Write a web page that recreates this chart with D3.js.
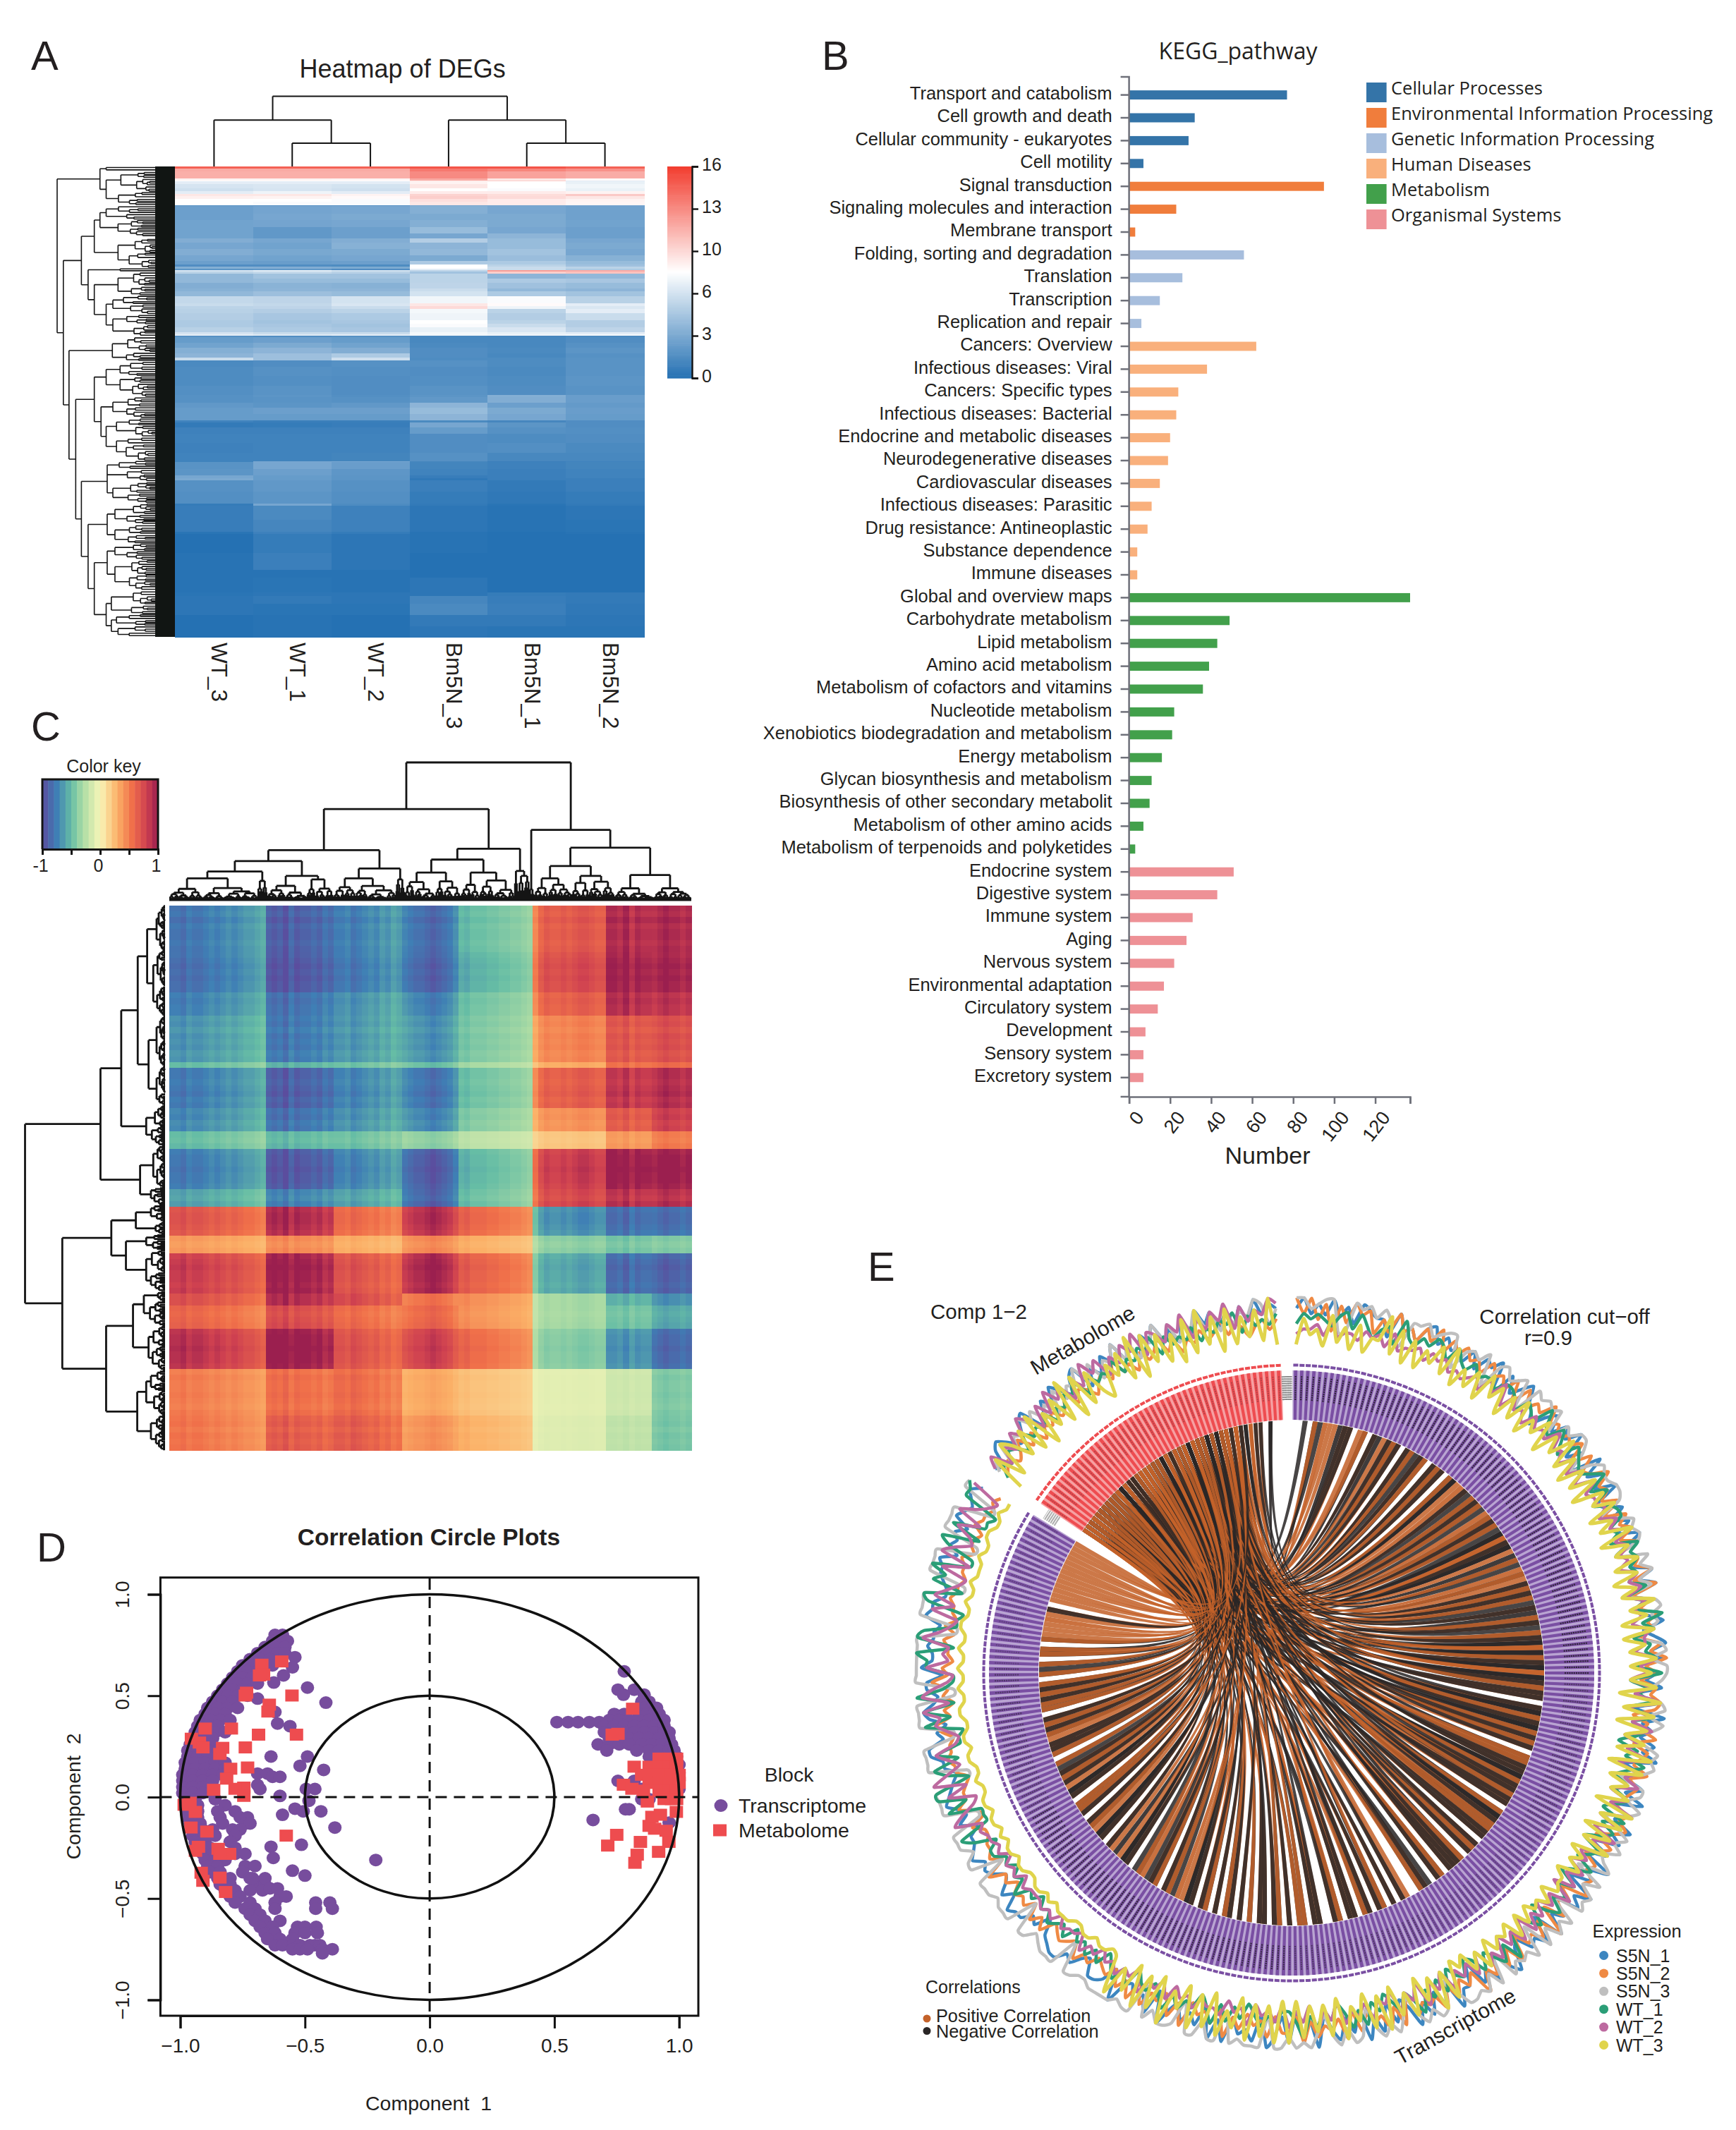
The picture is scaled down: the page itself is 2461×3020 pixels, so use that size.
<!DOCTYPE html>
<html><head><meta charset="utf-8">
<script src="https://cdn.jsdelivr.net/npm/d3@7"></script>
<style>html,body{margin:0;padding:0;background:#fff}svg{display:block}text{font-family:"Liberation Sans",Arial,sans-serif;fill:#231f20}</style>
</head><body><svg id="c" width="2461" height="3020" viewBox="0 0 2461 3020"></svg>
<script>
/* ---------- Panel A ---------- */
const heatColumns=["WT_3","WT_1","WT_2","Bm5N_3","Bm5N_1","Bm5N_2"];
const heatRows=[[4,14.5,14.5,14.5,15,15,14.5],[6,11.5,11.5,11.5,13.5,13,12.5],[16,11.3,11.3,11.3,12.8,11.8,11.4],[4,8.5,8.5,8.4,11.5,9,8.2],[2,8,8,8,9,10,7],[6,7,7,7,8.5,8,7.2],[8,6.5,6.6,6.4,9,8,7.5],[6,6.2,6.5,6.2,8,7.8,7.2],[6,7,7.4,7,8.8,8.8,8.5],[4,9,9,8.5,9.8,9.4,10.2],[6,8.6,8.5,8.2,10,9.5,9],[6,8,8,7.8,9.3,8.8,8.5],[8,8,7.8,7.8,9,8.8,8.4],[2,2,2,2,3,3,3],[16,2.6,2.9,3,3.5,3,2.7],[14,2.6,3,3.2,3.2,3.2,2.7],[14,2.8,2.9,3,3.5,3.2,2.8],[14,2.8,2.2,2.6,4.2,3,2.6],[10,2.8,2.2,2.6,3,3.8,2.6],[10,3.4,3,3.4,5.2,4.2,3],[12,3,2.8,3.6,3.8,4.2,3.2],[14,3.4,3.1,3.2,4,4.6,3],[12,3,2.8,3,3.2,4.3,3.6],[8,2.6,2.5,2.6,5,5,4.2],[4,1.6,1.6,1.5,8,5.5,4.5],[4,3.5,3.4,3.2,8,6,5.5],[4,2,2.2,1.6,7,6,5],[3,6.5,7,6.4,5.6,12,11.5],[4,5.5,5.8,5.4,4.6,10,10.5],[10,4,4.6,4.6,5.5,3.8,4],[10,4,4.2,4.2,5.5,5,4.8],[12,3.4,3.7,3.6,5.6,4.5,4.2],[6,3.6,3.8,3.8,6,4,3.8],[10,4,4.4,4.2,6.4,5,4.6],[14,5.8,5.6,6.4,7.5,7.8,5.4],[6,6,5.8,6.6,9,8.2,7],[6,5.5,5.6,6,9.5,7.4,6.6],[10,5.4,5.2,5.5,7.6,5.5,7],[14,5.2,4.8,5,7.4,5.2,6],[8,5,4.6,4.8,8,5.5,5.2],[8,5,4.8,4.6,7.8,6,5.2],[10,5.4,5,4.8,7.2,6.6,5.6],[4,6.5,6,6,7.6,7.2,7],[4,7,6.8,7,7.5,7.4,7.6],[3,1.8,1.6,1.8,1.3,1.2,1.4],[12,2.4,2.6,2.4,1.3,1.3,1.6],[10,2.8,3.2,2.8,1.4,1.3,1.8],[12,3.5,3.8,3.4,1.6,1.4,2],[8,3.8,4.4,5,1.6,1.3,1.8],[6,6,4.4,6.2,1.5,1.5,1.9],[14,1.4,1.6,1.8,1.8,1.5,1.9],[20,1.5,1.8,1.7,1.6,1.4,1.9],[20,1.5,1.7,1.6,1.7,1.5,2],[20,1.7,1.9,1.6,1.9,1.6,1.9],[4,1.8,2,1.7,2,3.5,2.5],[12,1.8,1.9,1.8,2.2,3.4,2.5],[10,2.2,2,2.2,3.8,2.6,2.3],[14,2.4,2.6,2.6,4.2,3.2,2.5],[14,2.4,2.4,2.4,3.8,3,2.4],[4,1,.8,.8,1.4,1.2,1.6],[10,.5,.6,.7,3,2,1.6],[14,.9,.9,.9,2.4,1.8,1.7],[20,1,1,1,1.6,1.5,1.6],[20,.9,1,1,1.6,1.7,1.4],[18,1,1,1.1,1.8,1.3,1.3],[2,1,3,3,1.2,.8,1],[14,1.9,3,2.5,1.1,.9,1.1],[14,2,2.6,2.1,1,.8,1],[6,3,2.4,2,.7,.8,1],[4,3.2,2.4,2,.4,.8,.8],[24,1.8,2.2,1.8,.8,.5,.8],[26,1.7,2,1.7,.6,.4,.6],[4,.6,3,1.5,.5,.2,.5],[30,.7,1.4,.9,.3,.1,.3],[26,.7,1.2,.9,.3,.1,.2],[4,.2,.9,.6,.1,0,.1],[40,0,.6,.3,.1,0,0],[36,.1,.8,.3,0,0,0],[16,.1,.1,.1,0,0,0],[32,.1,.2,.1,.3,0,0],[8,.2,.3,.3,.3,.6,.5],[16,.3,.5,.3,1.2,.7,.5],[24,.3,.2,.2,1.4,.8,.4],[24,0,.1,0,.5,.5,.3],[22,0,.1,0,.3,.2,.2]];
const heatTicks=[0,3.2,6.4,9.6,12.8,16];
const heatColTree=[204,[254,[352,0,1],[303,[352,1,2],[352,2,3]]],[254,[352,3,4],[303,[352,4,5],[352,5,6]]]];
const heatRowTree=[110,[193,[205,352,362],[205,362,435]],[122,[157,[182,[193,[205,435,465],[228,465,500]],[228,505,567]],[170,[232,567,575],[182,[228,575,625],[205,[218,625,665],[218,665,712]]]]],[133,[217,712,765],[146,[182,[205,[232,765,795],[232,795,840]],[195,[218,840,885],[205,[225,885,925],[225,925,975]]]],[157,[207,[207,975,1020],[218,1020,1065]],[170,[207,[222,1065,1110],[222,1110,1150]],[182,[207,[222,1150,1185],[222,1185,1250]],[205,[215,1250,1300],[215,[225,1300,1325],[228,1325,1348]]]]]]]]]];
/* ---------- Panel B ---------- */
const keggGroups=["Cellular Processes","Environmental Information Processing","Genetic Information Processing","Human Diseases","Metabolism","Organismal Systems"];
const keggColors=["#3474a8","#f07d3c","#a7bedd","#f9b07c","#42a04b","#ee9196"];
const keggNames=["Transport and catabolism","Cell growth and death","Cellular community - eukaryotes","Cell motility","Signal transduction","Signaling molecules and interaction","Membrane transport","Folding, sorting and degradation","Translation","Transcription","Replication and repair","Cancers: Overview","Infectious diseases: Viral","Cancers: Specific types","Infectious diseases: Bacterial","Endocrine and metabolic diseases","Neurodegenerative diseases","Cardiovascular diseases","Infectious diseases: Parasitic","Drug resistance: Antineoplastic","Substance dependence","Immune diseases","Global and overview maps","Carbohydrate metabolism","Lipid metabolism","Amino acid metabolism","Metabolism of cofactors and vitamins","Nucleotide metabolism","Xenobiotics biodegradation and metabolism","Energy metabolism","Glycan biosynthesis and metabolism","Biosynthesis of other secondary metabolit","Metabolism of other amino acids","Metabolism of terpenoids and polyketides","Endocrine system","Digestive system","Immune system","Aging","Nervous system","Environmental adaptation","Circulatory system","Development","Sensory system","Excretory system"];
const keggValues=[77,32,29,7,95,23,3,56,26,15,6,62,38,24,23,20,19,15,11,9,4,4,137,49,43,39,36,22,21,16,11,10,7,3,51,43,31,28,22,17,14,8,7,7];
const keggGroupOf=[0,0,0,0,1,1,1,2,2,2,2,3,3,3,3,3,3,3,3,3,3,3,4,4,4,4,4,4,4,4,4,4,4,4,5,5,5,5,5,5,5,5,5,5];
const keggTicks=[0,20,40,60,80,100,120,137];
/* ---------- Panel C ---------- */
const corrColSizes=[17,12,12,10,13,13,8,7];
const corrRowSizes=[8,7,4,8,1,7,4,3,7,3,5,3,7,2,4,7,8,6];
const corrBlocks=[[-.7,-.82,-.7,-.75,-.47,.62,.82,.86],[-.72,-.85,-.72,-.78,-.52,.68,.86,.88],[-.67,-.75,-.64,-.68,-.45,.6,.82,.82],[-.6,-.72,-.62,-.62,-.42,.45,.62,.68],[-.45,-.5,-.45,-.45,-.3,.3,.5,.55],[-.68,-.82,-.68,-.72,-.45,.6,.76,.84],[-.64,-.75,-.64,-.66,-.4,.4,.6,.76],[-.45,-.48,-.45,-.35,-.22,.2,.35,.48],[-.68,-.85,-.68,-.82,-.5,.76,.9,.92],[-.55,-.68,-.58,-.8,-.47,.72,.8,.84],[.62,.85,.55,.82,.58,-.65,-.75,-.78],[.35,.42,.3,.42,.3,-.38,-.42,-.4],[.72,.9,.65,.85,.6,-.55,-.75,-.82],[.65,.85,.72,.5,.42,-.3,-.5,-.65],[.55,.68,.55,.55,.4,-.3,-.42,-.55],[.78,.93,.65,.72,.55,-.38,-.6,-.78],[.45,.52,.55,.3,.22,-.08,-.15,-.4],[.48,.6,.62,.38,.28,-.1,-.2,-.42]];
const corrKeyDomain=[-1,-.75,-.5,-.3,0,.3,.55,.8,1];
const corrKeyColors=["#5b4d9e","#3f7fb5","#66bda5","#abdba4","#f8f6b8","#fbb067","#f0704a","#cf4150","#9b1f4f"];
const corrColShade="77867765654543321"+"676857665645"+"665765453423"+"4566787653"+"6755544332210"+"0465565677655"+"77685766"+"5676656";
const corrRowShade="65756656"+"5676766"+"5655"+"56465645"+"5"+"6656756"+"5645"+"546"+"5667665"+"546"+"56654"+"535"+"5676656"+"55"+"5456"+"5667665"+"46556546"+"564656";
const corrTopTree=[116,[210,[293,[315,[336,[350,358,545],[355,545,565]],[345,[365,565,650],[352,650,705]]],[330,[350,705,838],[352,838,856]]],[290,[312,[338,856,975],[338,975,1090]],[335,[360,1088,1096],[345,1096,1120]]]],[252,[372,1120,1130],[288,[325,[350,1130,1210],[345,1210,1300]],[343,[370,1300,1385],[370,1385,1463]]]]];
const corrLeftTree=[53,[213,[257,[292,[312,[332,405,495],[325,495,628]],[315,[332,628,730],[332,730,810]]],[310,810,890]],[297,[325,890,975],[320,975,1010]]],[132,[236,[288,[320,1010,1045],[330,1045,1070]],[267,[310,1070,1100],[310,1100,1185]]],[225,[282,[305,[335,1185,1205],[318,1205,1255]],[315,1255,1345]],[291,[310,1345,1435],[320,1435,1506]]]]];
const treeSplits=[.45,.6,.35,.52,.68,.4,.55,.3,.62,.48,.38,.58];
const treeSteps=[.42,.3,.5,.36,.25,.46,.33];
/* ---------- Panel D ---------- */
const transcriptRows=[[.80,-.59,-.62],[.77,-.63,-.60,-.57],[.74,-.66,-.62,-.58],[.71,-.69,-.65,-.61,-.58],[.68,-.72,-.68,-.64],[.65,-.75,-.71,-.67,-.63],[.62,-.77,-.73,-.69],[.59,-.79,-.75,-.71],[.56,-.81,-.77,-.73,-.69],[.53,-.83,-.79,-.75],[.50,-.85,-.81,-.77,-.73],[.47,-.87,-.83,-.79],[.44,-.89,-.85,-.81,-.77],[.41,-.90,-.86,-.82],[.38,-.92,-.88,-.84,-.80],[.35,-.93,-.89,-.85],[.32,-.94,-.9,-.86,-.82],[.29,-.95,-.91,-.87],[.26,-.96,-.92,-.88],[.23,-.97,-.93,-.89,-.85],[.20,-.97,-.93,-.89,-.85],[.17,-.98,-.94,-.9,-.86,-.82],[.14,-.98,-.94,-.9,-.86,-.82],[.11,-.99,-.95,-.91,-.87,-.83],[.08,-.99,-.95,-.91,-.87],[.05,-.99,-.95,-.91,-.87],[.02,-.99,-.95,-.91,-.87],[-.01,-.98,-.94,-.86],[-.04,-.97,-.93,-.82],[-.07,-.97,-.93,-.85,-.78],[-.1,-.97,-.93,-.84,-.76,-.73],[-.13,-.96,-.92,-.83,-.74,-.72],[-.16,-.95,-.91,-.87,-.79,-.76],[-.19,-.95,-.9,-.86,-.78],[-.22,-.94,-.9,-.8],[-.25,-.92,-.88,-.78],[-.28,-.91,-.87,-.78,-.74],[-.31,-.9,-.86,-.82],[-.34,-.89,-.85,-.74,-.7],[-.37,-.88,-.84,-.75],[-.40,-.85,-.8,-.72],[-.43,-.84,-.8,-.7,-.66],[-.46,-.82,-.78,-.72,-.67],[-.49,-.8,-.76,-.6,-.575],[-.52,-.78,-.72,-.62,-.457,-.4],[-.55,-.74,-.7,-.62,-.457,-.39],[-.58,-.72,-.68],[-.61,-.7,-.66,-.6],[-.64,-.68,-.63,-.53,-.5,-.455],[-.67,-.66,-.62,-.54,-.5,-.45],[-.7,-.65,-.6,-.55],[-.73,-.62,-.59,-.55,-.52,-.48,-.46,-.44],[-.75,-.55,-.52,-.49,-.43,-.39],[-.77,-.43],
[.69,-.54],[.64,-.55],[.6,-.586],[.565,-.625],[.54,-.49],[.466,-.416],[.486,-.69],[.42,-.62],[.363,-.61],[.35,-.56],[.2,-.636,-.49],[.154,-.52],[.134,-.425],[.116,-.69,-.65],[.1,-.63,-.6],[.06,-.69],[.04,-.68,-.495,-.46],[.006,-.6],[-.018,-.484],[-.057,-.54],[-.07,-.507,-.436],[-.087,-.59],[-.15,-.38],[-.245,-.636],[-.235,-.514],[-.3,-.627],[-.363,-.55],[-.387,-.5],[-.31,-.216],[-.4,-.71,-.66],[-.45,-.64,-.61],
[.62,.78],[.53,.755,.82],[.505,.777,.86],[.47,.85,.88],[.44,.86,.89,.91],[.41,.74,.78,.84,.87,.9,.92],[.38,.72,.76,.8,.84,.88,.92,.94],[.37,.51,.555,.595,.64,.68],[.35,.7,.74,.78,.82,.86,.9,.94],[.32,.7,.74,.78,.82,.86,.9,.94,.96],[.29,.72,.76,.8,.84,.88,.92,.96],[.26,.675,.72,.76,.8,.85,.89,.93,.97],[.23,.71,.83,.88,.92,.96,.98],[.2,.88,.92,.96,.99],[.16,.9,.94,.98,1.0],[.12,.92,.96,1.0],[.08,.755,.82,.9,.97,1.0],[.04,.85,.98,1.0],[-.01,.85,.88],[-.06,.785,.8],[-.113,.655],[-.126,.96]];
const metaboliteRows=[[.669,-.593],[.653,-.673],[.604,-.666],[.6,-.682],[.515,-.734],[.501,-.552,-.739],[.456,-.643],[.422,-.648],[.338,-.9,-.795],[.308,-.534,-.686],[.288,-.955],[.269,-.923],[.245,-.909,-.739],[.243,-.83],[.213,-.841],[.146,-.73],[.14,-.798],[.091,-.814],[.047,-.745],[.041,-.78],[.036,-.866],[.006,-.745],[-.028,-.961],[-.038,-.984],[-.073,-.939],[-.15,-.957],[-.17,-.893],[-.19,-.575],[-.245,-.927],[-.255,-.848],[-.265,-.939],[-.28,-.802,-.841],[-.373,-.916],[-.397,-.841],[-.413,-.909],[-.468,-.818],
[.436,.814],[.312,.755],[.308,.732],[.19,.92,.96,.99],[.15,.82,.88,.92,.96,.99],[.11,.85,.89,.93,.97,1.0],[.07,.88,.92,.96,1.0],[.061,.777],[.041,.811],[.032,.857],[.03,.92,.96,.99],[-.01,.94,.97,.99],[-.022,.873],[-.073,.989],[-.087,.925],[-.097,.891],[-.142,.88],[-.156,.902],[-.166,.948],[-.186,.75],[-.221,.845,.959],[-.239,.714],[-.27,.918],[-.284,.832],[-.324,.823]];
const circleTicks=[-1,-.5,0,.5,1];
/* ---------- Panel E ---------- */
const expressionNames=["S5N_1","S5N_2","S5N_3","WT_1","WT_2","WT_3"];
const expressionColors=["#3d86c0","#ef8a44","#bfbfbf","#2b9e77","#bd6aa0","#e0d44c"];
const transcriptBars=d3.range(260), metaboliteBars=d3.range(47);
const S5N_1_T="79686968598774967589686758"+"58793857965368586947395859"+"45858596375969474695796837"+"58383957586937485947596837"+"39573968375938674597385726"+"69374859537385937486394728"+"37938674959375746938574593"+"67745768876365778575467687"+"66475687654668856478657748"+"66766587755677857675876786";
const S5N_2_T="96958385978475967586958686"+"75867584857696757684856967"+"58486858376959475867486957"+"47687365847658576547686375"+"36576836473947563847375946"+"47485657384856473846574836"+"63745364836453847354737463"+"54354634543646354535473544"+"33523644324454435634243634"+"23342423343323342332433232";
const S5N_3_T="99789933989797338897899378"+"79389789398989387997379889"+"98369898397968389786389699"+"86389697369897388697369796"+"79396989397969397879396989"+"96389797369797389697369897"+"99399989399699389979399899"+"99889939998799399989993997"+"99933999922999933999922999"+"99992299992299992299992299";
const WT_1_T="46565467475356385465764754"+"64554665365485475376546847"+"36774538675647364957365738"+"25462736415374253642736415"+"42631525364153142736425214"+"31525374253142636314253742"+"24353142526314353642431525"+"31424231423423132523132442"+"68222849926837221838294227"+"79298221892869227928221889";
const WT_2_T="23342523324342523342434232"+"34253625342534363425252634"+"45364746453646364536553745"+"26382637253826472638262736"+"24152516241425152415351524"+"25142614251325243514261425"+"14231523143324231413251324"+"23132412231323222313231323"+"34386327396357324658386327"+"34385327375327286347385328";
const WT_3_T="05230614050338160504261704"+"15062505160426052715051606"+"37152816372615283617152726"+"27081706261807152608270617"+"03140223031203040213051402"+"07181507260817052807161708"+"08171806380718052907180628"+"10110110011101011001101101"+"01101100100110110011001001"+"00100110010010001001100100";
const S5N_1_M="65897568945869758947586957486957485968574859687";
const S5N_2_M="34534635243534635424536342534635243534635424535";
const S5N_3_M="57485769685748576958476958476958476958475769847";
const WT_1_M="35465364546354657364546354657364546354657364546";
const WT_2_M="68475869748596847596847586948758694758694857698";
const WT_3_M="07186271806271908172063719082716081927081627190";
const chordSigns="..n.pn.pp."+"nn.pp.n.pn"+"pn.npnnp.n"+"pn.pnp.nnp"+"npn.pnpnnp"+"nnp.pn.ppn"+"pnpnn.pnnp"+"nnpnpnnpnn"+"pnn.nnpnnp"+"npn.ppnnnp"+"nnpnn.pnnp"+"pnn.npn.pn"+"nn.pn.nnp."+".pn.n.pn.n"+"p.nn.pn..n"+"n.pp.n.pn."+"nn.p.n.np."+"n.pn.nnp.n"+"pn.pnn.pn."+"nnp.pn.nnp"+"pn.npp.nnp"+"npnnp.pnnp"+"pnpn.ppnpn"+"p.pnp.pp.p"+"ppp.pn.ppp"+"pppppppppp";
const chordSignsOver="....n.p..n"+"pp..n.pn.p"+"np.pn.pn.p"+"np.nn.pp.n"+"pn.pnpn.np"+"pn.nn.pn.p"+"npn.pnnp.n"+"pnpnnpnpnp"+"npp.pnnpnn"+"pnp.nnppnn"+"ppnpp.nnpn"+"npp.pnp.np"+"pp.np..pn."+"..p.p.np.p"+"n.pp.np..p"+"p.nn.p.np."+"pp.n.p.pn."+"p.np.pn.p."+"np.np.pn.."+"pn.n.p.pn."+"np.pnn.pn."+"pnp.n.npp."+"npnp.nnpnp"+"n.n.n.nn.n"+"...p.p...."+"..........";
const chordTargets=[44,40,37,42,31,38,27,35,41,24,33,29,36,20,39,26,31,18,34,22,30,16,28,37,14,25,33,12,21,35,10,27,19,32,8,24,15,29,6,23,17,34,5,20,26,13,30,3,22,9,28,11,18,25,7,16,31,4,21,2,27,14,33,10,19,1,24,6,29,17,12,35,8,22,3,26,15,20,5,30,11,23,0,18,28,9,13,25,4,32,7,16,21,2,27,10,19,34,6,24,1,14,29,12,17,3,36,8,22,26,5,11,31,15,0,20,9,37,13,4,25,18,7,28,2,33,10,16,23,6,30,1,21,12,38,3,19,27,8,14,5,24,11,32,17,0,26,9,20,4,29,13,7,22,2,35,16,10,25,6,18,1,28,12,3,31,15,8,21,5,34,11,0,23,14,7,19,2,27,10,4,17,6,30,9,1,13,3,20,5,24,8,0,15,2,11,6,18,4,1,12,3,7,0,9,5,2];
const labelShade=[.95,.95,.95,.55,.35,.55,.85,.95,.55,.3];

/* ---------- helpers ---------- */
const svg=d3.select("#c");
svg.append("rect").attr("width",2461).attr("height",3020).attr("fill","#fff");
const T=(x,y,s,size,o={})=>{const t=svg.append("text").attr("x",x).attr("y",y).attr("font-size",size).attr("text-anchor",o.a||"start").text(s);
 if(o.w)t.attr("font-weight",o.w); if(o.f)t.style("font-family",o.f); if(o.r!=null)t.attr("transform",`rotate(${o.r} ${x} ${y})`); t.style("white-space","pre"); return t;};
[["A",44,99],["B",1165,99],["C",44,1050],["D",52,2214],["E",1230,1816]].forEach(d=>T(d[1],d[2],d[0],58));
let seq=0;
function buildTree(t,bottom,minLeaf){
 const cluster=(lvl,s,e)=>{ if(e-s<=minLeaf) return {level:bottom,pos:(s+e)/2};
  const i=seq++; const m=s+(e-s)*treeSplits[i%treeSplits.length];
  const n1=lvl+(bottom-lvl)*treeSteps[i%treeSteps.length], n2=lvl+(bottom-lvl)*treeSteps[(i+3)%treeSteps.length];
  const k=[cluster(n1,s,m),cluster(n2,m,e)]; return {level:lvl,pos:(k[0].pos+k[1].pos)/2,kids:k};};
 const node=n=>{ if(typeof n[1]==="number") return cluster(n[0],n[1],n[2]);
  const k=[node(n[1]),node(n[2])]; return {level:n[0],pos:(k[0].pos+k[1].pos)/2,kids:k};};
 return node(t);
}
function drawTree(t,bottom,minLeaf,levelScale,posScale,horizontalLevel,width){
 const p=d3.path(); const pt=horizontalLevel?(l,q)=>[levelScale(l),posScale(q)]:(l,q)=>[posScale(q),levelScale(l)];
 const walk=n=>{ if(!n.kids) return; const a=pt(n.level,n.kids[0].pos),b=pt(n.level,n.kids[1].pos);
  p.moveTo(...a);p.lineTo(...b);
  n.kids.forEach(k=>{const u=pt(n.level,k.pos),v=pt(k.level,k.pos);p.moveTo(...u);p.lineTo(...v);walk(k);});};
 walk(buildTree(t,bottom,minLeaf));
 svg.append("path").attr("d",p.toString()).attr("fill","none").attr("stroke","#141414").attr("stroke-width",width);
}
/* ---------- A draw ---------- */
(function(){
 const color=d3.scaleLinear().domain([0,8,16]).range(["#2571b3","#ffffff","#f23c2e"]);
 const xH=d3.scaleBand().domain(heatColumns).range([248,913]);
 const yH=d3.scaleLinear().domain([0,d3.sum(heatRows,d=>d[0])]).range([236,903]);
 let acc=0; const g=svg.append("g").attr("shape-rendering","crispEdges");
 heatRows.forEach(r=>{heatColumns.forEach((c,i)=>{g.append("rect").attr("x",xH(c)).attr("y",yH(acc)).attr("width",xH.bandwidth()+.5).attr("height",yH(acc+r[0])-yH(acc)+.5).attr("fill",color(r[i+1]));});acc+=r[0];});
 T(570.6,110,"Heatmap of DEGs",36,{a:"middle"});
 drawTree(heatColTree,352,1,d3.scaleLinear().domain([204,352]).range([136.6,236]),d3.scaleLinear().domain([0,6]).range([248,913]),false,2);
 drawTree(heatRowTree,300,6,d3.scaleLinear().domain([110,300]).range([81,220]),d3.scaleLinear().domain([352,1348]).range([236,903]),true,1.6);
 svg.append("rect").attr("x",220).attr("y",236).attr("width",28).attr("height",667).attr("fill","#111513");
 heatColumns.forEach(c=>T(xH(c)+xH.bandwidth()/2-3,911,c,31.5,{r:90}));
 const yC=d3.scaleLinear().domain([0,16]).range([536,236]);
 d3.range(0,16,.1).forEach(v=>svg.append("rect").attr("x",946).attr("y",yC(v+.1)).attr("width",35).attr("height",yC(v)-yC(v+.1)+.6).attr("fill",color(v)));
 const ax=svg.append("g").attr("transform","translate(981,0)").call(d3.axisRight(yC).tickValues(heatTicks).tickSize(9).tickPadding(5).tickFormat(d=>Math.round(d)));
 ax.selectAll("text").attr("font-size",25).attr("fill","#231f20").attr("y",-3).style("font-family","Liberation Sans");
 ax.selectAll("line,path").attr("stroke","#111").attr("stroke-width",2.4);
})();
/* ---------- B draw ---------- */
(function(){
 const y=d3.scaleBand().domain(keggNames).range([118.4,1544]).paddingInner(.6).paddingOuter(.3);
 const x=d3.scaleLinear().domain([0,137]).range([1600.6,1999]);
 svg.selectAll(".kb").data(keggNames).enter().append("rect").attr("x",x(0)).attr("y",d=>y(d)).attr("width",(d,i)=>x(keggValues[i])-x(0)).attr("height",y.bandwidth()).attr("fill",(d,i)=>keggColors[keggGroupOf[i]]);
 const axis="#6e7079";
 const ay=svg.append("g").attr("transform",`translate(${x(0)},0)`).call(d3.axisLeft(y).tickSize(12).tickPadding(12));
 ay.select(".domain").remove();
 ay.selectAll("line").attr("stroke",axis).attr("stroke-width",2.5);
 ay.selectAll("text").attr("font-size",25.5).attr("fill","#231f20").attr("dy","0.25em").style("font-family","Liberation Sans");
 svg.append("path").attr("d",`M${x(0)-12} 109H${x(0)}V1555H${x(0)-12}`).attr("fill","none").attr("stroke",axis).attr("stroke-width",2.5);
 const ax=svg.append("g").attr("transform","translate(0,1555)").call(d3.axisBottom(x).tickValues(keggTicks).tickSize(10).tickFormat(d=>d===137?"":d));
 ax.selectAll("line,path").attr("stroke",axis).attr("stroke-width",2.5);
 ax.selectAll("text").attr("font-size",27).attr("fill","#231f20").style("font-family","Liberation Sans").attr("text-anchor","end").attr("dy",0).attr("y",0).attr("x",0).attr("transform","translate(22,30) rotate(-52)");
 T(1755,83.6,"KEGG_pathway",32,{a:"middle",f:"Open Sans"});
 T(1797,1650,"Number",34,{a:"middle"});
 keggGroups.forEach((g,i)=>{svg.append("rect").attr("x",1937).attr("y",117+36*i).attr("width",28.6).attr("height",28).attr("fill",keggColors[i]);
  T(1972,134+36*i,g,25.5,{f:"Open Sans"});});
})();
/* ---------- C draw ---------- */
(function(){
 const key=d3.scaleLinear().domain(corrKeyDomain).range(corrKeyColors).clamp(true);
 const colBlock=[],rowBlock=[]; corrColSizes.forEach((n,b)=>d3.range(n).forEach(()=>colBlock.push(b))); corrRowSizes.forEach((n,b)=>d3.range(n).forEach(()=>rowBlock.push(b)));
 const x=d3.scaleBand().domain(d3.range(colBlock.length)).range([240,980]);
 const y=d3.scaleBand().domain(d3.range(rowBlock.length)).range([1284,2056]);
 const g=svg.append("g").attr("shape-rendering","crispEdges");
 rowBlock.forEach((rb,r)=>colBlock.forEach((cb,c)=>{
  g.append("rect").attr("x",x(c)).attr("y",y(r)).attr("width",x.bandwidth()+.5).attr("height",y.bandwidth()+.5).attr("fill",key(corrBlocks[rb][cb]*(.72+.056*(+corrColShade[c]))*(.84+.032*(+corrRowShade[r]))));}));
 drawTree(corrTopTree,392,4,d3.scaleLinear().domain([116,397]).range([1081,1278.5]),d3.scaleLinear().domain([358,1463]).range([240,980]),false,2.8);
 svg.append("line").attr("x1",240).attr("x2",980).attr("y1",1275).attr("y2",1275).attr("stroke","#141414").attr("stroke-width",5);
 drawTree(corrLeftTree,350,5,d3.scaleLinear().domain([53,350]).range([35.5,234]),d3.scaleLinear().domain([405,1506]).range([1284,2056]),true,2.8);
 const kx=d3.scaleLinear().domain([-1,1]).range([60,224]);
 d3.range(-1,1,.1).forEach(v=>svg.append("rect").attr("x",kx(v)).attr("y",1105).attr("width",kx(v+.1)-kx(v)+.5).attr("height",99).attr("fill",key(v+.05)));
 svg.append("path").attr("d","M60 1204V1105H224V1204").attr("fill","none").attr("stroke","#141414").attr("stroke-width",3);
 const ax=svg.append("g").attr("transform","translate(0,1204)").call(d3.axisBottom(kx).tickValues([-1,-.5,0,.5,1]).tickSize(8).tickPadding(6).tickFormat(d=>d%1===0?(d<0?"-1":d):""));
 ax.selectAll("line,path").attr("stroke","#141414").attr("stroke-width",3);
 ax.selectAll("text").attr("font-size",25).attr("fill","#231f20").attr("x",-3).style("font-family","Liberation Sans");
 T(147,1095,"Color key",25,{a:"middle"});
})();
/* ---------- D draw ---------- */
(function(){
 const x=d3.scaleLinear().domain([-1,1]).range([255.5,962.7]);
 const y=d3.scaleLinear().domain([-1,1]).range([2835.5,2260.5]);
 const pts=rows=>rows.flatMap(r=>r.slice(1).map(v=>[v,r[0]]));
 svg.selectAll(".tp").data(pts(transcriptRows)).enter().append("ellipse").attr("cx",d=>x(d[0])).attr("cy",d=>y(d[1])).attr("rx",9.5).attr("ry",9).attr("fill","#774d9d");
 svg.selectAll(".mp").data(pts(metaboliteRows)).enter().append("rect").attr("x",d=>x(d[0])-9.5).attr("y",d=>y(d[1])-8.5).attr("width",19).attr("height",17).attr("fill","#ee4c4f");
 [1,.5].forEach(r=>svg.append("ellipse").attr("cx",x(0)).attr("cy",y(0)).attr("rx",x(r)-x(0)).attr("ry",y(0)-y(r)).attr("fill","none").attr("stroke","#111").attr("stroke-width",3.6));
 const dash=(a,b,c,d)=>svg.append("line").attr("x1",a).attr("y1",b).attr("x2",c).attr("y2",d).attr("stroke","#111").attr("stroke-width",3).attr("stroke-dasharray","16 10");
 dash(227.4,y(0),990,y(0)); dash(x(0),2238,x(0),2858);
 svg.append("rect").attr("x",227.4).attr("y",2236.7).attr("width",762.6).attr("height",621.3).attr("fill","none").attr("stroke","#111").attr("stroke-width",3);
 const ax=svg.append("g").attr("transform","translate(0,2858)").call(d3.axisBottom(x).tickValues(circleTicks).tickSize(18).tickPadding(14).tickFormat(d3.format(".1f")));
 const ay=svg.append("g").attr("transform","translate(227.4,0)").call(d3.axisLeft(y).tickValues(circleTicks).tickSize(18).tickFormat(d3.format(".1f")));
 [ax,ay].forEach(a=>{a.selectAll("line,path").attr("stroke","#111").attr("stroke-width",3);a.selectAll("text").attr("font-size",28).attr("fill","#231f20").style("font-family","Liberation Sans");});
 ay.selectAll("text").attr("text-anchor","middle").attr("x",0).attr("dy",0).attr("transform","translate(-44,0) rotate(-90)");
 T(608,2191,"Correlation Circle Plots",33.5,{a:"middle",w:"bold"});
 T(607.5,2992,"Component  1",28.5,{a:"middle"});
 T(114,2547,"Component  2",28.5,{a:"middle",r:-90});
 T(1118.6,2526,"Block",28.5,{a:"middle"});
 svg.append("ellipse").attr("cx",1022).attr("cy",2560).attr("rx",9.5).attr("ry",9).attr("fill","#774d9d");
 svg.append("rect").attr("x",1011).attr("y",2586.5).attr("width",19).attr("height",17).attr("fill","#ee4c4f");
 T(1047,2570,"Transcriptome",28.5); T(1047,2605,"Metabolome",28.5);
})();
/* ---------- E draw ---------- */
(function(){
 const rad=Math.PI/180, g=svg.append("g").attr("transform","translate(1831,2372)");
 const tA=d3.scaleBand().domain(transcriptBars).range([.2*rad,301.5*rad]);
 const mA=d3.scaleBand().domain(metaboliteBars).range([-56*rad,-1.9*rad]);
 const arc=d3.arc();
 const ringGroup=(scale,bars,pale,dark)=>{
  g.append("path").attr("d",arc({innerRadius:359,outerRadius:429,startAngle:scale.range()[0],endAngle:scale.range()[1]})).attr("fill",pale);
  const bw=scale.bandwidth();
  g.selectAll(null).data(bars).enter().append("path").attr("fill",dark).attr("d",d=>arc({innerRadius:359,outerRadius:429,startAngle:scale(d)+bw*.22,endAngle:scale(d)+bw*.78}));
  g.selectAll(null).data(bars).enter().append("path").attr("fill",dark).attr("d",d=>arc({innerRadius:434.5,outerRadius:438.5,startAngle:scale(d)+bw*.1,endAngle:scale(d)+bw*.9}));
 };
 ringGroup(tA,transcriptBars,"#b9a4d2","#7a4fa3");
 ringGroup(mA,metaboliteBars,"#f6a0a2","#ee4c50");
 const pol=(a,r)=>[r*Math.sin(a),-r*Math.cos(a)];
 const tick=(a,r0,r1,op,col)=>{const u=pol(a,r0),v=pol(a,r1);g.append("line").attr("x1",u[0]).attr("y1",u[1]).attr("x2",v[0]).attr("y2",v[1]).attr("stroke",col).attr("stroke-width",2.2).attr("stroke-dasharray","2 1.2").attr("opacity",op);};
 transcriptBars.forEach(i=>{const a=tA(i)+tA.bandwidth()/2;tick(a,387,421,labelShade[Math.floor(i/26)],"#2b2433");});
 metaboliteBars.forEach(i=>tick(mA(i)+mA.bandwidth()/2,387,421,.35,"#5a3038"));
 d3.range(-1.8,.2,.25).forEach(a=>tick(a*rad,387,421,.6,"#555"));
 d3.range(-58,-56,.3).forEach(a=>tick(a*rad,395,415,.6,"#777"));
 const cols={p:"#c4622a",n:"#2a2626"}; let k=0;
 const ribbon=(a0,a1,b0,b1)=>{const R=358,p=d3.path(),o=-Math.PI/2,cx=-28,cy=-22,f=.14;
  const P=a=>[R*Math.cos(a+o),R*Math.sin(a+o)], A=P(a1), B0=P(b0), B1=P(b1), A0=P(a0);
  p.arc(0,0,R,a0+o,a1+o);
  p.bezierCurveTo(cx+f*A[0],cy+f*A[1],cx+f*B0[0],cy+f*B0[1],B0[0],B0[1]);
  p.arc(0,0,R,b0+o,b1+o);
  p.bezierCurveTo(cx+f*B1[0],cy+f*B1[1],cx+f*A0[0],cy+f*A0[1],A0[0],A0[1]);
  p.closePath();return p.toString();};
 const layer=(signs,op)=>Array.from(signs).forEach((s,i)=>{ if(s===".")return; const m=chordTargets[k++%chordTargets.length];
  g.append("path").attr("d",ribbon(tA(i),tA(i)+tA.bandwidth(),mA(m)+mA.bandwidth()*.1,mA(m)+mA.bandwidth()*.9)).attr("fill",cols[s]).attr("opacity",op);});
 layer(chordSignsOver,.9);
 layer(chordSigns,.86);
 const rr=d3.scaleLinear().domain([0,9]).range([466,532]);
 const series=[[S5N_1_T,S5N_1_M],[S5N_2_T,S5N_2_M],[S5N_3_T,S5N_3_M],[WT_1_T,WT_1_M],[WT_2_T,WT_2_M],[WT_3_T,WT_3_M]];
 const line=d3.lineRadial().curve(d3.curveCardinal.tension(.5));
 series.forEach((s,j)=>{
  [[s[0],tA],[s[1],mA]].forEach(([str,sc])=>{
   const pts=Array.from(str).map((c,i)=>[sc(i)+sc.bandwidth()/2,rr(+c)]);
   g.append("path").attr("d",line(pts)).attr("fill","none").attr("stroke",expressionColors[j]).attr("stroke-width",j===5?5:4.5).attr("stroke-linejoin","round");});
 });
 T(1319,1870,"Comp 1−2",29.5);
 T(2218,1876.5,"Correlation cut−off",29.5,{a:"middle"});
 T(2195,1907,"r=0.9",29.5,{a:"middle"});
 T(1540,1909,"Metabolome",30,{a:"middle",r:-30});
 T(2068,2882,"Transcriptome",30,{a:"middle",r:-29});
 T(2257.6,2747,"Expression",25.5);
 expressionNames.forEach((n,i)=>{const y=2772.5+25.4*i;svg.append("circle").attr("cx",2273.6).attr("cy",y).attr("r",6.5).attr("fill",expressionColors[i]);T(2291,y+9,n,25);});
 T(1312,2826,"Correlations",25);
 svg.append("circle").attr("cx",1314).attr("cy",2862).attr("r",5.5).attr("fill","#c4622a");
 svg.append("circle").attr("cx",1314).attr("cy",2879.5).attr("r",5.5).attr("fill","#2a2626");
 T(1327,2867,"Positive Correlation",25.3); T(1327,2889,"Negative Correlation",25.3);
})();
</script></body></html>
